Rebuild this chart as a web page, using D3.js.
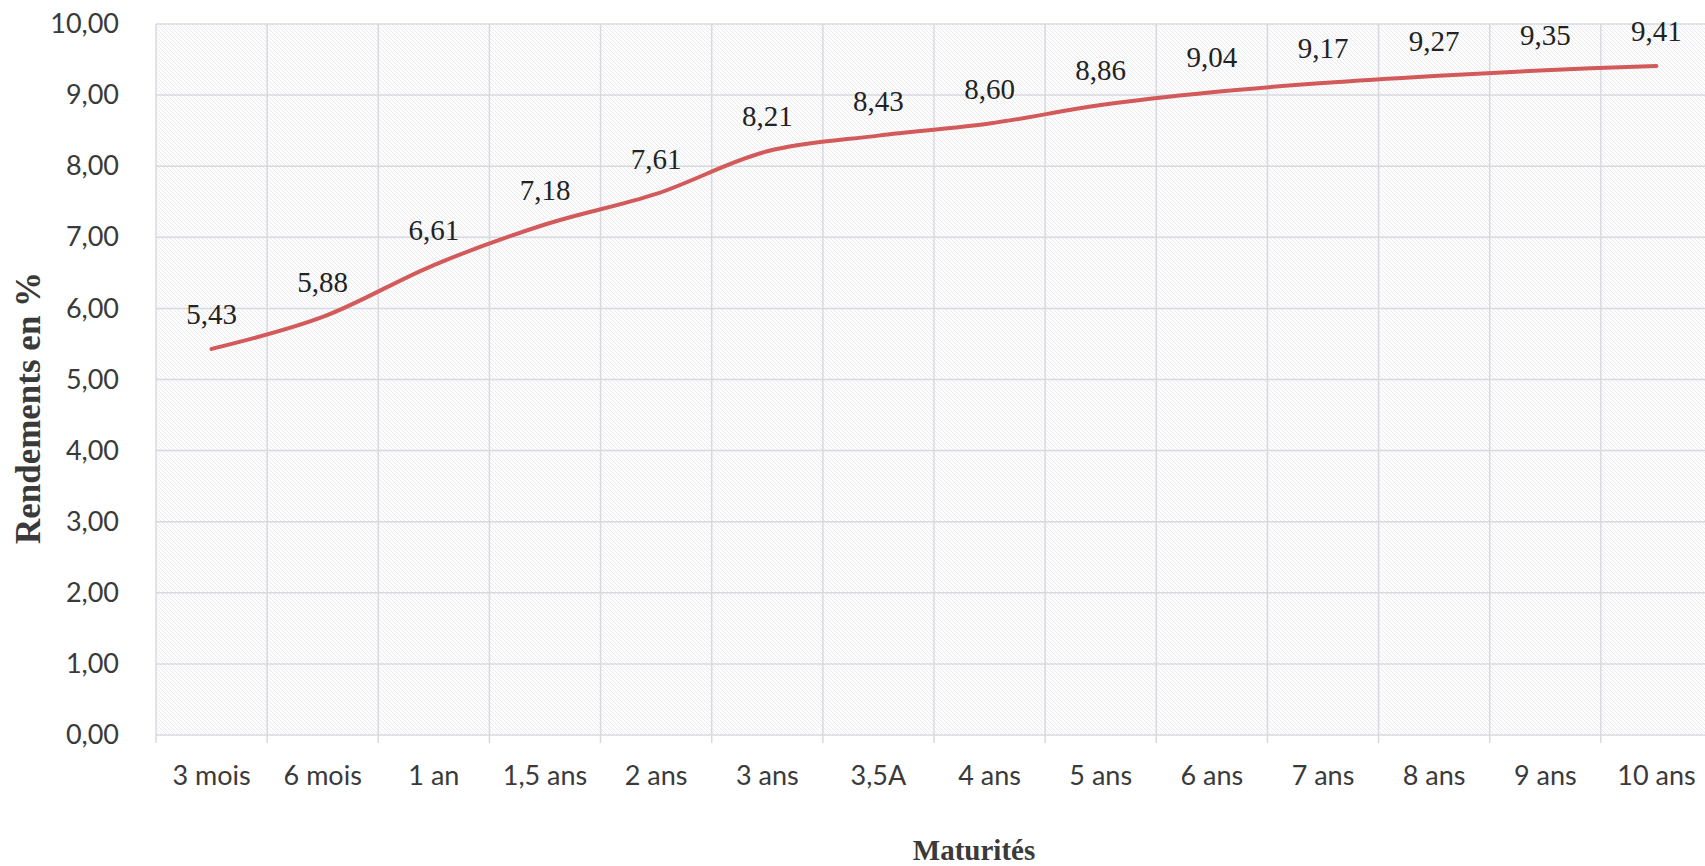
<!DOCTYPE html>
<html>
<head>
<meta charset="utf-8">
<script src="https://cdn.jsdelivr.net/npm/d3@7"></script>
<style>
  body { margin: 0; background: #fff; }
  svg { display: block; }
</style>
</head>
<body>
<svg id="chart" width="1705" height="866"></svg>
<script>
// yield curve data
const maturities = ['3 mois', '6 mois', '1 an', '1,5 ans', '2 ans', '3 ans', '3,5A', '4 ans', '5 ans', '6 ans', '7 ans', '8 ans', '9 ans', '10 ans'];
const rendements = [5.43, 5.88, 6.61, 7.18, 7.61, 8.21, 8.43, 8.60, 8.86, 9.04, 9.17, 9.27, 9.35, 9.41];
const yTicks = [0, 1, 2, 3, 4, 5, 6, 7, 8, 9, 10];

const svg = d3.select('#chart');
const margin = { top: 24, right: -7, bottom: 131, left: 156 };
const width = 1705 - margin.left - margin.right;
const height = 866 - margin.top - margin.bottom;

const fr = d3.formatLocale({ decimal: ',', thousands: ' ', grouping: [3], currency: ['', ' €'] });
const fmt = fr.format('.2f');

const x = d3.scaleBand().domain(maturities).range([0, width]);
const y = d3.scaleLinear().domain([0, 10]).range([height, 0]);

// hatched background pattern
const defs = svg.append('defs');
const pat = defs.append('pattern')
    .attr('id', 'hatch')
    .attr('patternUnits', 'userSpaceOnUse')
    .attr('width', 4).attr('height', 4);
pat.append('rect').attr('width', 4).attr('height', 4).attr('fill', '#fdfdfd');
pat.append('path')
    .attr('d', 'M-1,-1 L5,5 M-1,3 L1,5 M3,-1 L5,1')
    .attr('stroke', '#ebebee')
    .attr('stroke-width', 1);

const g = svg.append('g')
    .attr('transform', `translate(${margin.left},${margin.top})`);

g.append('rect')
    .attr('width', width)
    .attr('height', height)
    .attr('fill', 'url(#hatch)');

// horizontal grid
g.selectAll('.hgrid')
    .data(yTicks)
    .enter()
    .append('line')
    .attr('x1', 0).attr('x2', width)
    .attr('y1', d => y(d)).attr('y2', d => y(d))
    .attr('stroke', '#d8d9e0')
    .attr('stroke-width', 1.5);

// vertical grid + ticks below axis
const bounds = maturities.map(m => x(m)).concat([width]);
g.selectAll('.vgrid')
    .data(bounds)
    .enter()
    .append('line')
    .attr('x1', d => d).attr('x2', d => d)
    .attr('y1', 0).attr('y2', height + 8)
    .attr('stroke', '#d8d9e0')
    .attr('stroke-width', 1.5);

// Y axis
const yAxis = g.append('g')
    .call(d3.axisLeft(y).tickValues(yTicks).tickSize(0).tickPadding(37).tickFormat(fmt));
yAxis.select('.domain').remove();
yAxis.selectAll('text')
    .attr('font-family', 'Lato, sans-serif')
    .attr('font-size', '27px')
    .attr('fill', '#3a3a3a');

// X axis
const xAxis = g.append('g')
    .attr('transform', `translate(0,${height})`)
    .call(d3.axisBottom(x).tickSize(0).tickPadding(31));
xAxis.select('.domain').remove();
xAxis.selectAll('text')
    .attr('font-family', 'Lato, sans-serif')
    .attr('font-size', '27px')
    .attr('fill', '#3a3a3a');

// the curve
const line = d3.line()
    .x((d, i) => x(maturities[i]) + x.bandwidth() / 2)
    .y(d => y(d))
    .curve(d3.curveCatmullRom.alpha(0.5));

g.append('path')
    .datum(rendements)
    .attr('d', line)
    .attr('fill', 'none')
    .attr('stroke', '#d25a5a')
    .attr('stroke-width', 4)
    .attr('stroke-linecap', 'round');

// value labels
g.selectAll('.label')
    .data(rendements)
    .enter()
    .append('text')
    .attr('x', (d, i) => x(maturities[i]) + x.bandwidth() / 2)
    .attr('y', d => y(d) - 25)
    .attr('text-anchor', 'middle')
    .attr('font-family', '"Liberation Serif", "Times New Roman", serif')
    .attr('font-size', '29px')
    .attr('fill', '#222')
    .text(d => fmt(d));

// axis titles
svg.append('text')
    .attr('transform', 'translate(40,408) rotate(-90)')
    .attr('text-anchor', 'middle')
    .attr('font-family', '"Liberation Serif", "Times New Roman", serif')
    .attr('font-weight', 'bold')
    .attr('font-size', '35px')
    .attr('fill', '#3a3a3a')
    .text('Rendements en %');

svg.append('text')
    .attr('x', 974)
    .attr('y', 860)
    .attr('text-anchor', 'middle')
    .attr('font-family', '"Liberation Serif", "Times New Roman", serif')
    .attr('font-weight', 'bold')
    .attr('font-size', '29px')
    .attr('fill', '#3a3a3a')
    .text('Maturités');
</script>
</body>
</html>
